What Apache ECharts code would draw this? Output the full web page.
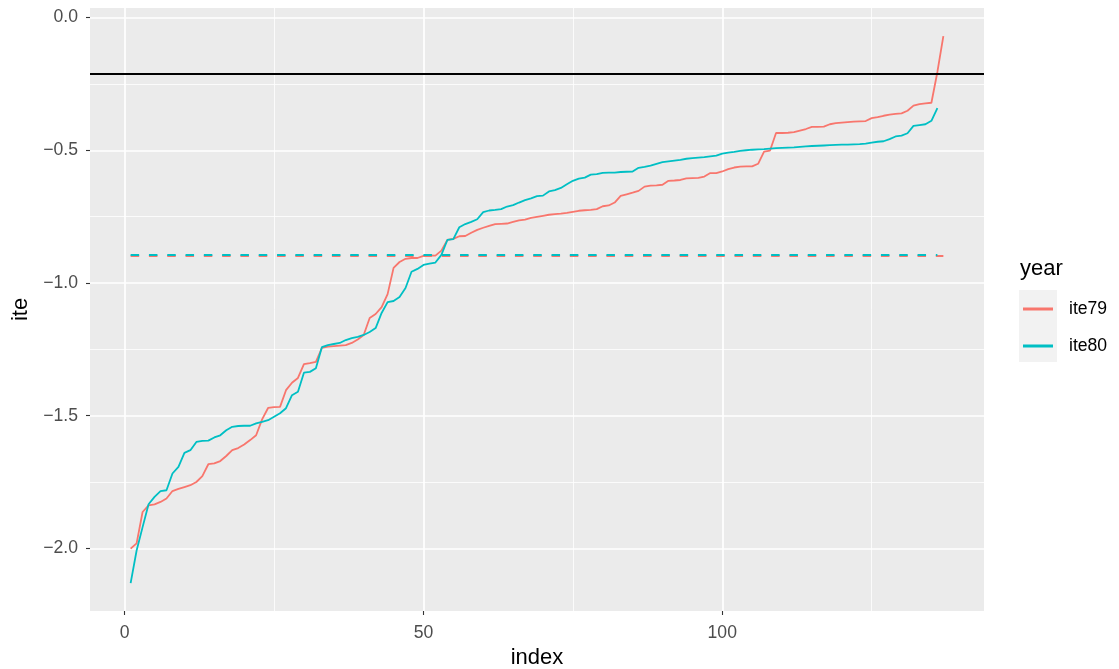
<!DOCTYPE html>
<html><head><meta charset="utf-8">
<script src="https://cdn.jsdelivr.net/npm/echarts@6/dist/echarts.min.js"></script>
<style>html,body{margin:0;padding:0;background:#fff}#c{width:1119px;height:669px}</style>
</head><body><div id="c"></div>
<script>
const ite79 = [-2.001,-1.981,-1.863,-1.838,-1.834,-1.825,-1.812,-1.784,-1.776,-1.769,
-1.762,-1.750,-1.728,-1.683,-1.680,-1.671,-1.652,-1.630,-1.622,-1.609,
-1.592,-1.574,-1.514,-1.471,-1.468,-1.467,-1.404,-1.376,-1.358,-1.306,
-1.302,-1.297,-1.245,-1.240,-1.238,-1.236,-1.234,-1.226,-1.213,-1.196,
-1.132,-1.117,-1.091,-1.042,-0.943,-0.921,-0.909,-0.906,-0.906,-0.898,
-0.896,-0.897,-0.878,-0.838,-0.834,-0.824,-0.823,-0.811,-0.800,-0.792,
-0.785,-0.778,-0.777,-0.776,-0.770,-0.764,-0.761,-0.755,-0.751,-0.747,
-0.743,-0.741,-0.739,-0.736,-0.732,-0.728,-0.726,-0.725,-0.722,-0.711,
-0.708,-0.697,-0.672,-0.666,-0.660,-0.653,-0.637,-0.633,-0.632,-0.630,
-0.615,-0.614,-0.612,-0.606,-0.605,-0.604,-0.599,-0.586,-0.586,-0.580,
-0.571,-0.565,-0.562,-0.561,-0.561,-0.551,-0.505,-0.501,-0.435,-0.435,
-0.434,-0.432,-0.426,-0.420,-0.412,-0.412,-0.411,-0.402,-0.398,-0.396,
-0.394,-0.392,-0.391,-0.390,-0.379,-0.375,-0.370,-0.366,-0.363,-0.361,
-0.351,-0.332,-0.326,-0.323,-0.321,-0.205,-0.070];
const ite80 = [-2.131,-2.008,-1.920,-1.834,-1.806,-1.784,-1.781,-1.718,-1.693,-1.640,
-1.630,-1.599,-1.595,-1.594,-1.582,-1.574,-1.555,-1.542,-1.539,-1.538,
-1.538,-1.529,-1.523,-1.517,-1.504,-1.491,-1.472,-1.423,-1.410,-1.338,
-1.335,-1.321,-1.242,-1.234,-1.230,-1.226,-1.215,-1.208,-1.203,-1.196,
-1.185,-1.170,-1.113,-1.072,-1.068,-1.053,-1.019,-0.958,-0.947,-0.932,
-0.927,-0.923,-0.894,-0.838,-0.835,-0.790,-0.778,-0.770,-0.760,-0.733,
-0.727,-0.725,-0.722,-0.712,-0.707,-0.697,-0.688,-0.681,-0.673,-0.671,
-0.655,-0.650,-0.642,-0.628,-0.615,-0.607,-0.603,-0.592,-0.590,-0.585,
-0.584,-0.584,-0.582,-0.581,-0.580,-0.566,-0.563,-0.558,-0.551,-0.545,
-0.542,-0.539,-0.536,-0.532,-0.530,-0.528,-0.526,-0.523,-0.520,-0.513,
-0.509,-0.506,-0.502,-0.500,-0.498,-0.497,-0.496,-0.494,-0.492,-0.491,
-0.490,-0.489,-0.487,-0.485,-0.484,-0.483,-0.482,-0.481,-0.480,-0.479,
-0.479,-0.478,-0.477,-0.475,-0.471,-0.468,-0.466,-0.458,-0.448,-0.445,
-0.436,-0.408,-0.405,-0.402,-0.389,-0.341];
const mean79 = -0.899;
const mean80 = -0.892;
const refLine = -0.213;
const xMajorTicks = [0, 50, 100];
const xMinorTicks = [25, 75, 125];
const yMajorTicks = [0, -0.5, -1, -1.5, -2];
const yMinorTicks = [-0.25, -0.75, -1.25, -1.75];
const seriesNames = ['ite79', 'ite80'];
const legendTitle = 'year';
const xTitle = 'index';
const yTitle = 'ite';

const FONT = '"Liberation Sans", Arial, Helvetica, sans-serif';
const RED = '#F8766D', TEAL = '#00BFC4';
const toPairs = arr => arr.map((v, i) => [i + 1, v]);
const fmtY = v => (v < 0 ? '\u2212' : '') + Math.abs(v).toFixed(1);

const gridLines = [
  ...xMinorTicks.map(v => ({ xAxis: v, lineStyle: { color: '#fff', width: 0.8, type: 'solid' } })),
  ...yMinorTicks.map(v => ({ yAxis: v, lineStyle: { color: '#fff', width: 0.8, type: 'solid' } })),
  ...xMajorTicks.map(v => ({ xAxis: v, lineStyle: { color: '#fff', width: 1.7, type: 'solid' } })),
  ...yMajorTicks.map(v => ({ yAxis: v, lineStyle: { color: '#fff', width: 1.7, type: 'solid' } }))
];

const chart = echarts.init(document.getElementById('c'), null, { renderer: 'canvas' });
chart.setOption({
  animation: false,
  backgroundColor: '#fff',
  textStyle: { fontFamily: FONT },
  grid: { left: 90, top: 8, width: 894, height: 603, show: true, backgroundColor: '#EBEBEB', borderWidth: 0,
    containLabel: false, outerBoundsMode: 'none' },
  xAxis: {
    type: 'value', min: -5.8, max: 143.8,
    axisLine: { show: false, onZero: false }, splitLine: { show: false },
    axisTick: { show: true, customValues: xMajorTicks, length: 4, lineStyle: { color: '#333', width: 1.1 } },
    axisLabel: { customValues: xMajorTicks, color: '#4D4D4D', fontSize: 17.6, margin: 13, fontFamily: FONT },
    name: xTitle, nameLocation: 'middle', nameGap: 33,
    nameTextStyle: { fontSize: 22, color: '#000', fontFamily: FONT }
  },
  yAxis: {
    type: 'value', min: -2.236, max: 0.036,
    axisLine: { show: false, onZero: false }, splitLine: { show: false },
    axisTick: { show: true, customValues: yMajorTicks, length: 4, lineStyle: { color: '#333', width: 1.1 } },
    axisLabel: { customValues: yMajorTicks, color: '#4D4D4D', fontSize: 17.6, margin: 12, fontFamily: FONT, formatter: fmtY },
    name: yTitle, nameLocation: 'middle', nameGap: 54, nameRotate: 90,
    nameTextStyle: { fontSize: 22, color: '#000', fontFamily: FONT }
  },
  legend: {
    data: seriesNames, orient: 'vertical', left: 1023, top: 299, padding: 0,
    icon: 'rect', itemWidth: 30, itemHeight: 3, itemGap: 17,
    textStyle: { fontSize: 17.6, color: '#000', lineHeight: 20, padding: [0, 0, 0, 11], fontFamily: FONT }
  },
  graphic: [
    { type: 'rect', left: 1019, top: 290, shape: { width: 38, height: 72 }, style: { fill: '#F2F2F2' }, z: -1, silent: true },
    { type: 'text', left: 1020, top: 258, style: { text: legendTitle, fontSize: 22, fill: '#000', fontFamily: FONT }, silent: true }
  ],
  series: [
    { name: 'grid', type: 'line', data: [], z: 1, silent: true,
      markLine: { z: 1, symbol: 'none', silent: true, label: { show: false }, data: gridLines } },
    { name: seriesNames[0], type: 'line', data: toPairs(ite79), showSymbol: false, z: 3,
      lineStyle: { color: RED, width: 1.8 }, itemStyle: { color: RED } },
    { name: seriesNames[1], type: 'line', data: toPairs(ite80), showSymbol: false, z: 4,
      lineStyle: { color: TEAL, width: 1.8 }, itemStyle: { color: TEAL } },
    { name: 'ref', type: 'line', data: [], z: 5, silent: true,
      markLine: { z: 5, symbol: 'none', silent: true, label: { show: false },
        data: [{ yAxis: refLine, lineStyle: { color: '#000', width: 1.8, type: 'solid' } }] } },
    { name: 'mean79', type: 'line', data: [], z: 6, silent: true,
      markLine: { z: 6, symbol: 'none', silent: true, label: { show: false },
        data: [[{ coord: [1, mean79] }, { coord: [ite79.length, mean79] }]],
        lineStyle: { color: RED, width: 1.8, type: [8.5, 9.8] } } },
    { name: 'mean80', type: 'line', data: [], z: 7, silent: true,
      markLine: { z: 7, symbol: 'none', silent: true, label: { show: false },
        data: [[{ coord: [1, mean80] }, { coord: [ite80.length, mean80] }]],
        lineStyle: { color: TEAL, width: 1.8, type: [8.5, 9.8] } } }
  ]
});
</script>
</body></html>
